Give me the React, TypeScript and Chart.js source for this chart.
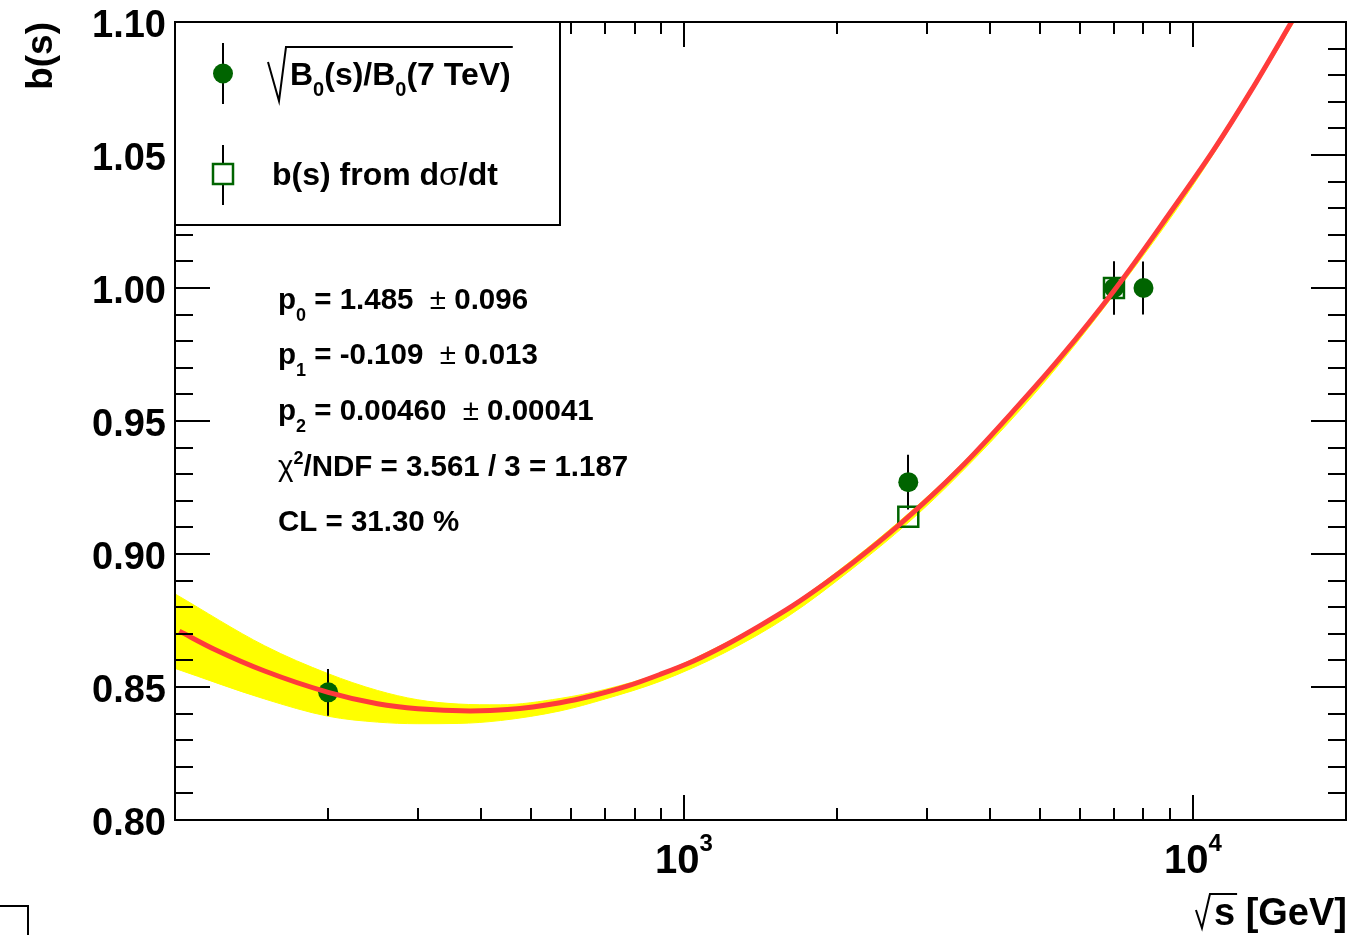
import React, { useEffect, useRef } from 'react';
import { Chart, registerables } from 'chart.js';
Chart.register(...registerables);

const W = 1363;
const H = 935;
const FONT = '"Liberation Sans", Arial, Helvetica, sans-serif';

// ---- data ----
const circleX = [200, 2760, 7000, 8000];
const circleY = [0.848, 0.927, 1.0, 1.0];
const circleErr = [0.0088, 0.0103, 0.01, 0.01];

const squareX = [2760, 7000];
const squareY = [0.914, 1.0];
const squareErr = [0, 0.01];

const fitX = [102, 120, 150, 200, 250, 300, 380, 450, 571, 664, 773, 897, 1042, 1214, 1409, 1637, 1905, 2144, 2652, 3500, 4500, 5500, 7000, 9000, 11000, 13000, 15630, 17000];
const fitY = [0.871, 0.864, 0.856, 0.848, 0.8437, 0.8418, 0.841, 0.8415, 0.8441, 0.8468, 0.8503, 0.8547, 0.8597, 0.866, 0.873, 0.8806, 0.8893, 0.8966, 0.911, 0.9325, 0.955, 0.974, 0.999, 1.028, 1.052, 1.074, 1.1, 1.112];

const bandX = [100, 150, 200, 250, 300, 360, 436, 571, 700, 900, 1200, 1600, 2144, 2760, 3500, 5000, 7000, 10000, 15630, 17000];
const bandHigh = [0.885, 0.8655, 0.855, 0.8487, 0.8452, 0.8436, 0.8433, 0.8457, 0.8491, 0.8553, 0.8663, 0.88, 0.8978, 0.9152, 0.9335, 0.9655, 0.9998, 1.041, 1.1005, 1.113];
const bandLow = [0.857, 0.8455, 0.839, 0.8368, 0.8362, 0.8363, 0.8374, 0.841, 0.8455, 0.8522, 0.8628, 0.8765, 0.8945, 0.9118, 0.9305, 0.9625, 0.9975, 1.0385, 1.0985, 1.111];

const yMajorTicks = [0.8, 0.85, 0.9, 0.95, 1.0, 1.05, 1.1];
const yTickLabels = ['0.80', '0.85', '0.90', '0.95', '1.00', '1.05', '1.10'];
const yMinorStep = 0.01;
const xMajorTicks = [1000, 10000];
const xTickExponents = ['3', '4'];
const xMinorTicks = [200, 300, 400, 500, 600, 700, 800, 900, 2000, 3000, 4000, 5000, 6000, 7000, 8000, 9000];

const GREEN = '#006400';
const RED = '#ff3b3b';
const YELLOW = '#ffff00';

function pts(xs: number[], ys: number[]) {
  return xs.map((x, i) => ({ x, y: ys[i] }));
}

function drawRuns(ctx: CanvasRenderingContext2D, x: number, y: number, parts: { t: string; size: number; dy?: number; w?: string }[]) {
  let cx = x;
  for (const p of parts) {
    ctx.font = `${p.w || 'bold'} ${p.size}px ${FONT}`;
    ctx.fillText(p.t, cx, y + (p.dy || 0));
    cx += ctx.measureText(p.t).width;
  }
  return cx;
}

function drawErrorBar(ctx: CanvasRenderingContext2D, x: number, y: number, yTop: number, yBot: number, gap: number) {
  ctx.beginPath();
  if (yTop < y - gap) {
    ctx.moveTo(x, yTop);
    ctx.lineTo(x, y - gap);
  }
  if (yBot > y + gap) {
    ctx.moveTo(x, y + gap);
    ctx.lineTo(x, yBot);
  }
  ctx.stroke();
}

const rootPlugin = {
  id: 'rootStyle',
  afterDatasetDraw(chart: any, args: any) {
    const ds = chart.data.datasets[args.index];
    if (ds.label !== 'bandLow') return;
    const ctx: CanvasRenderingContext2D = chart.ctx;
    const xs = chart.scales.x;
    const ys = chart.scales.y;
    ctx.save();
    ctx.strokeStyle = '#000';
    ctx.lineWidth = 2;
    circleX.forEach((xv, i) => {
      const px = Math.round(xs.getPixelForValue(xv));
      drawErrorBar(ctx, px, ys.getPixelForValue(circleY[i]), ys.getPixelForValue(circleY[i] + circleErr[i]), ys.getPixelForValue(circleY[i] - circleErr[i]), 9);
    });
    squareX.forEach((xv, i) => {
      if (!squareErr[i]) return;
      const px = Math.round(xs.getPixelForValue(xv));
      drawErrorBar(ctx, px, ys.getPixelForValue(squareY[i]), ys.getPixelForValue(squareY[i] + squareErr[i]), ys.getPixelForValue(squareY[i] - squareErr[i]), 10);
    });
    ctx.restore();
  },
  afterDraw(chart: any) {
    const ctx: CanvasRenderingContext2D = chart.ctx;
    const xs = chart.scales.x;
    const ys = chart.scales.y;
    const { left: L, right: R, top: T, bottom: B } = chart.chartArea;
    ctx.save();
    ctx.strokeStyle = '#000';
    ctx.fillStyle = '#000';
    ctx.lineWidth = 2;
    ctx.lineCap = 'butt';

    // frame
    ctx.strokeRect(L, T, R - L, B - T);

    // y ticks (left and right, inward)
    ctx.beginPath();
    for (let v = 0.8; v <= 1.1 + 1e-9; v += yMinorStep) {
      const y = Math.round(ys.getPixelForValue(v));
      const major = yMajorTicks.some((m) => Math.abs(m - v) < 1e-6);
      const len = major ? 35 : 18;
      ctx.moveTo(L, y);
      ctx.lineTo(L + len, y);
      ctx.moveTo(R, y);
      ctx.lineTo(R - len, y);
    }
    // x ticks (bottom and top, inward)
    xMinorTicks.forEach((v) => {
      const x = Math.round(xs.getPixelForValue(v));
      ctx.moveTo(x, B);
      ctx.lineTo(x, B - 12);
      ctx.moveTo(x, T);
      ctx.lineTo(x, T + 12);
    });
    xMajorTicks.forEach((v) => {
      const x = Math.round(xs.getPixelForValue(v));
      ctx.moveTo(x, B);
      ctx.lineTo(x, B - 25);
      ctx.moveTo(x, T);
      ctx.lineTo(x, T + 25);
    });
    ctx.stroke();

    // y tick labels
    ctx.font = `bold 38px ${FONT}`;
    ctx.textAlign = 'right';
    ctx.textBaseline = 'alphabetic';
    yMajorTicks.forEach((v, i) => {
      const y = ys.getPixelForValue(v);
      ctx.fillText(yTickLabels[i], 166, y + 15);
    });

    // x tick labels 10^n
    ctx.textAlign = 'left';
    xMajorTicks.forEach((v, i) => {
      const x = xs.getPixelForValue(v);
      ctx.font = `bold 40px ${FONT}`;
      const w1 = ctx.measureText('10').width;
      ctx.font = `bold 24px ${FONT}`;
      const w2 = ctx.measureText(xTickExponents[i]).width;
      const start = x - (w1 + w2) / 2;
      drawRuns(ctx, start, 873, [
        { t: '10', size: 40 },
        { t: xTickExponents[i], size: 24, dy: -22 },
      ]);
    });

    // x axis title: sqrt(s) [GeV]
    ctx.font = `bold 38px ${FONT}`;
    const tail = ' [GeV]';
    const wTail = ctx.measureText(tail).width;
    const wS = ctx.measureText('s').width;
    const sX = R + 1 - wTail - wS;
    ctx.fillText('s', sX, 925);
    ctx.fillText(tail, sX + wS, 925);
    ctx.beginPath();
    ctx.lineWidth = 2;
    ctx.moveTo(sX - 18, 910);
    ctx.lineTo(sX - 12, 928);
    ctx.lineTo(sX - 4, 894);
    ctx.lineTo(sX + wS + 2, 894);
    ctx.stroke();

    // y axis title
    ctx.save();
    ctx.translate(52, 22);
    ctx.rotate(-Math.PI / 2);
    ctx.font = `bold 37px ${FONT}`;
    ctx.textAlign = 'right';
    ctx.fillText('b(s)', 0, 0);
    ctx.restore();

    // legend box
    ctx.fillStyle = '#fff';
    ctx.fillRect(L, T, 385, 203);
    ctx.strokeStyle = '#000';
    ctx.lineWidth = 2;
    ctx.strokeRect(L, T, 385, 203);
    // entry 1 marker
    ctx.beginPath();
    ctx.moveTo(223, 43);
    ctx.lineTo(223, 64);
    ctx.moveTo(223, 83);
    ctx.lineTo(223, 104);
    ctx.stroke();
    ctx.fillStyle = GREEN;
    ctx.beginPath();
    ctx.arc(223, 73.5, 10, 0, Math.PI * 2);
    ctx.fill();
    // entry 2 marker
    ctx.strokeStyle = '#000';
    ctx.beginPath();
    ctx.moveTo(223, 145);
    ctx.lineTo(223, 164);
    ctx.moveTo(223, 184);
    ctx.lineTo(223, 205);
    ctx.stroke();
    ctx.strokeStyle = GREEN;
    ctx.lineWidth = 2.5;
    ctx.strokeRect(213, 164, 20, 20);
    // entry 1 text with sqrt
    ctx.fillStyle = '#000';
    ctx.strokeStyle = '#000';
    ctx.textAlign = 'left';
    const endX = drawRuns(ctx, 290, 85, [
      { t: 'B', size: 32 },
      { t: '0', size: 20, dy: 11 },
      { t: '(s)/B', size: 32 },
      { t: '0', size: 20, dy: 11 },
      { t: '(7 TeV)', size: 32 },
    ]);
    ctx.lineWidth = 2;
    ctx.beginPath();
    ctx.moveTo(268, 62);
    ctx.lineTo(279, 101);
    ctx.lineTo(286, 47);
    ctx.lineTo(endX + 2, 47);
    ctx.stroke();
    // entry 2 text
    drawRuns(ctx, 272, 185, [
      { t: 'b(s) from d', size: 32 },
      { t: 'σ', size: 32, w: 'normal' },
      { t: '/dt', size: 32 },
    ]);

    // fit statistics
    const sx = 278;
    const fs = 29.5;
    drawRuns(ctx, sx, 309, [
      { t: 'p', size: fs },
      { t: '0', size: 18, dy: 12 },
      { t: ' = 1.485  ', size: fs },
      { t: '±', size: fs, w: 'normal' },
      { t: ' 0.096', size: fs },
    ]);
    drawRuns(ctx, sx, 364, [
      { t: 'p', size: fs },
      { t: '1', size: 18, dy: 12 },
      { t: ' = -0.109  ', size: fs },
      { t: '±', size: fs, w: 'normal' },
      { t: ' 0.013', size: fs },
    ]);
    drawRuns(ctx, sx, 420, [
      { t: 'p', size: fs },
      { t: '2', size: 18, dy: 12 },
      { t: ' = 0.00460  ', size: fs },
      { t: '±', size: fs, w: 'normal' },
      { t: ' 0.00041', size: fs },
    ]);
    drawRuns(ctx, sx, 476, [
      { t: 'χ', size: fs, w: 'normal' },
      { t: '2', size: 18, dy: -12 },
      { t: '/NDF = 3.561 / 3 = 1.187', size: fs },
    ]);
    drawRuns(ctx, sx, 531, [{ t: 'CL = 31.30 %', size: fs }]);

    // corner mark bottom-left
    ctx.strokeStyle = '#000';
    ctx.lineWidth = 2;
    ctx.beginPath();
    ctx.moveTo(0, 906);
    ctx.lineTo(28, 906);
    ctx.lineTo(28, 935);
    ctx.stroke();

    ctx.restore();
  },
};

export default function App() {
  const ref = useRef<HTMLCanvasElement | null>(null);
  useEffect(() => {
    if (!ref.current) return;
    const chart = new Chart(ref.current, {
      type: 'scatter',
      data: {
        datasets: [
          {
            label: 'bandHigh',
            data: pts(bandX, bandHigh),
            showLine: true,
            pointRadius: 0,
            borderWidth: 1,
            borderColor: YELLOW,
            backgroundColor: YELLOW,
            fill: '+1',
            cubicInterpolationMode: 'monotone',
            order: 6,
          } as any,
          {
            label: 'bandLow',
            data: pts(bandX, bandLow),
            showLine: true,
            pointRadius: 0,
            borderWidth: 1,
            borderColor: YELLOW,
            fill: false,
            cubicInterpolationMode: 'monotone',
            order: 5,
          } as any,
          {
            label: 'squares',
            data: pts(squareX, squareY),
            pointStyle: 'rect',
            pointRadius: 14.1,
            pointBackgroundColor: 'rgba(0,0,0,0)',
            pointBorderColor: GREEN,
            pointBorderWidth: 2.5,
            order: 3,
          } as any,
          {
            label: 'circles',
            data: pts(circleX, circleY),
            pointStyle: 'circle',
            pointRadius: 10,
            pointBackgroundColor: GREEN,
            pointBorderColor: GREEN,
            pointBorderWidth: 0,
            order: 2,
          } as any,
          {
            label: 'fit',
            data: pts(fitX, fitY),
            showLine: true,
            pointRadius: 0,
            borderWidth: 5,
            borderColor: RED,
            fill: false,
            cubicInterpolationMode: 'monotone',
            order: 1,
          } as any,
        ],
      },
      options: {
        responsive: false,
        animation: false,
        devicePixelRatio: 1,
        events: [],
        layout: { padding: { left: 175, right: 17, top: 22, bottom: 115 } },
        plugins: { legend: { display: false }, tooltip: { enabled: false }, title: { display: false } },
        scales: {
          x: { type: 'logarithmic', min: 100, max: 20000, display: false },
          y: { type: 'linear', min: 0.8, max: 1.1, display: false },
        },
      } as any,
      plugins: [rootPlugin],
    });
    return () => chart.destroy();
  }, []);
  return (
    <div style={{ position: 'absolute', left: 0, top: 0, width: W, height: H, background: '#fff' }}>
      <canvas ref={ref} width={W} height={H} style={{ width: W, height: H, display: 'block' }} />
    </div>
  );
}
